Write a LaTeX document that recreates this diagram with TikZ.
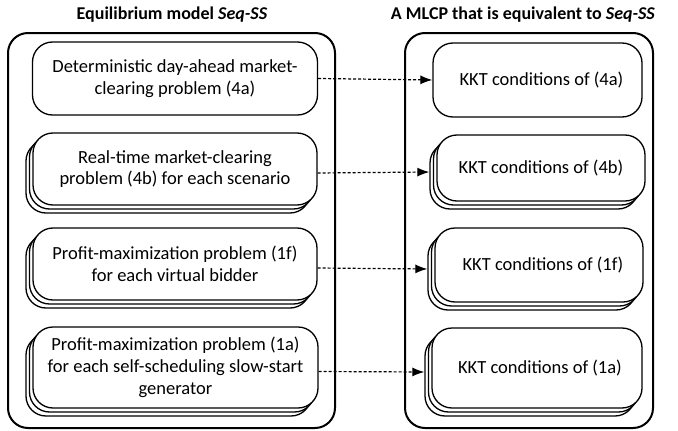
\documentclass[tikz,border=0pt]{standalone}
\usepackage{fontspec}
\setmainfont{Carlito}
\usetikzlibrary{arrows.meta,shadows}
\begin{document}
\begin{tikzpicture}[x=1pt,y=-1pt,
  outerbox/.style={draw, line width=2pt, rounded corners=20pt},
  inbox/.style={draw, fill=white, line width=1.3pt, rounded corners=20pt, align=center,
    font=\fontsize{18.5}{21.7}\selectfont, inner sep=0pt},
  stackbox/.style={inbox, double copy shadow={shadow xshift=-3.5pt, shadow yshift=-4pt, line width=1.3pt, draw=black, fill=white}},
  arr/.style={line width=1.2pt, dash pattern=on 3pt off 2pt, -{Latex[length=12pt,width=9pt]}},
  title/.style={font=\fontsize{18}{21.7}\selectfont\bfseries}
]
\useasboundingbox (0,0) rectangle (678,431);
\node[title] (t1) at (172,15) {Equilibrium model \textit{Seq-SS}};
\node[title] (t2) at (523,15) {A MLCP that is equivalent to \textit{Seq-SS}};
\draw[outerbox] (8,33) rectangle (335,428);
\draw[outerbox] (405,33) rectangle (653,428);
% left boxes
\node[inbox, minimum width=285pt, minimum height=73pt] (L1) at (175,78.5) {Deterministic day-ahead market-\\clearing problem (4a)};
\node[stackbox, minimum width=284pt, minimum height=72pt] (L2) at (175,169) {Real-time market-clearing\\problem (4b) for each scenario};
\node[stackbox, minimum width=284pt, minimum height=72pt] (L3) at (175,264) {Profit-maximization problem (1f)\\for each virtual bidder};
\node[stackbox, minimum width=285pt, minimum height=81pt] (L4) at (175.5,367.5) {Profit-maximization problem (1a)\\for each self-scheduling slow-start\\generator};
% right boxes
\node[inbox, minimum width=209pt, minimum height=74pt] (R1) at (537.5,80) {\hspace*{8pt}KKT conditions of (4a)};
\node[stackbox, minimum width=208pt, minimum height=66pt] (R2) at (541,168) {KKT conditions of (4b)};
\node[stackbox, minimum width=208pt, minimum height=74pt] (R3) at (539,265) {\hspace*{8pt}KKT conditions of (1f)};
\node[stackbox, minimum width=210pt, minimum height=80pt] (R4) at (537,368) {\hspace*{6pt}KKT conditions of (1a)};
% connectors
\draw[arr] (L1.east) -- (R1.west);
\draw[arr] ([yshift=-4pt]L2.east) -- ([xshift=-7pt,yshift=-4pt]R2.west);
\draw[arr] ([yshift=-4pt]L3.east) -- ([xshift=-7pt,yshift=-4pt]R3.west);
\draw[arr] ([yshift=-4pt]L4.east) -- ([xshift=-7pt,yshift=-4pt]R4.west);
\end{tikzpicture}
\end{document}
